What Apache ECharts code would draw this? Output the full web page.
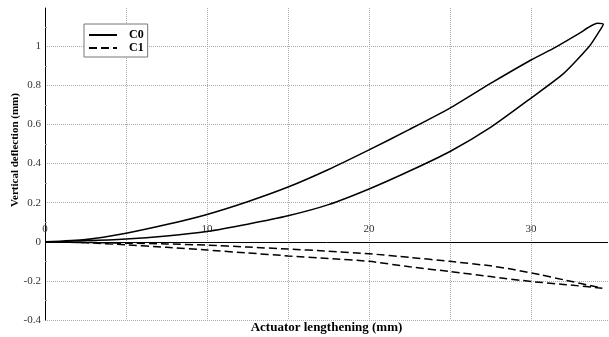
<!DOCTYPE html>
<html>
<head>
<meta charset="utf-8">
<script src="https://cdn.jsdelivr.net/npm/echarts@6/dist/echarts.min.js"></script>
<style>
  html, body { margin: 0; padding: 0; background: #fff; }
  #chart { width: 609px; height: 337px; }
</style>
</head>
<body>
<div id="chart"></div>
<script>
// ---- Data ----
const seriesNames = ['C0', 'C1'];
// C0: loading branch (lower) then unloading branch (upper)
const c0X = [0, 2.5, 5, 7.5, 10, 12.5, 15, 17.5, 20, 22.5, 25, 27.5, 30, 32, 33.6, 34.2, 34.46,
             34.1, 33.5, 33, 31.5, 30, 27.5, 25, 22.5, 20, 17.5, 15, 12.5, 10, 7.5, 5, 2.5, 0];
const c0Y = [0, 0.005, 0.014, 0.03, 0.053, 0.09, 0.133, 0.19, 0.27, 0.362, 0.462, 0.585, 0.735, 0.86, 1.0, 1.075, 1.113,
             1.118, 1.095, 1.067, 0.995, 0.93, 0.81, 0.684, 0.575, 0.47, 0.37, 0.28, 0.205, 0.14, 0.088, 0.044, 0.012, 0];
// C1: outward branch (lower) then return branch (upper)
const c1X = [0, 2.5, 5, 7.5, 10, 12.5, 15, 17.5, 20, 22.5, 25, 27.5, 30, 32, 34.4,
             32, 30.6, 29, 27.5, 25, 22.5, 20, 17.5, 15, 12.5, 10, 7.5, 5, 2.5, 0];
const c1Y = [0, -0.005, -0.015, -0.028, -0.042, -0.057, -0.072, -0.085, -0.1, -0.128, -0.152, -0.178, -0.203, -0.218, -0.237,
             -0.194, -0.169, -0.143, -0.123, -0.1, -0.08, -0.061, -0.048, -0.037, -0.027, -0.017, -0.011, -0.007, -0.003, 0];
const xLabelTicks = [0, 10, 20, 30];
const xTitle = 'Actuator lengthening (mm)';
const yTitle = 'Vertical deflection (mm)';

function pairs(xs, ys) { return xs.map((x, i) => [x, ys[i]]); }

const FONT = "'Liberation Serif', 'Times New Roman', serif";
const chart = echarts.init(document.getElementById('chart'), null, { renderer: 'canvas' });

chart.setOption({
  animation: false,
  backgroundColor: '#fff',
  grid: { left: 45, top: 8, width: 563, height: 312, containLabel: false, outerBoundsMode: 'none' },
  legend: {
    data: seriesNames,
    orient: 'vertical',
    left: 84, top: 24,
    padding: [5, 4, 3, 4],
    itemGap: 1,
    itemWidth: 28, itemHeight: 12,
    backgroundColor: '#fff',
    borderColor: '#777', borderWidth: 1, borderRadius: 0,
    lineStyle: { width: 2 },
    itemStyle: { opacity: 0, color: 'rgba(0,0,0,0)', borderWidth: 0 },
    textStyle: { fontFamily: FONT, fontWeight: 'bold', fontSize: 12, color: '#000', padding: [0, 0, 0, 7] }
  },
  xAxis: {
    type: 'value', min: 0, max: 34.75, interval: 5, position: 'bottom',
    name: xTitle, nameLocation: 'middle', nameGap: 1, nameMoveOverlap: false,
    nameTextStyle: { fontFamily: FONT, fontWeight: 'bold', fontSize: 13, color: '#000', verticalAlign: 'top' },
    axisLine: { show: false, onZero: false },
    axisTick: { show: false },
    axisLabel: {
      inside: true, margin: 85, fontFamily: FONT, fontSize: 11, color: '#333',
      showMaxLabel: false,
      formatter: v => (xLabelTicks.indexOf(v) >= 0 ? String(v) : '')
    },
    splitLine: { show: true, showMaxLine: false, lineStyle: { type: 'dotted', color: '#aaa', width: 1 } }
  },
  yAxis: {
    type: 'value', min: -0.4, max: 1.196, interval: 0.2,
    name: yTitle, nameLocation: 'middle', nameGap: 24, nameMoveOverlap: false,
    nameTextStyle: { fontFamily: FONT, fontWeight: 'bold', fontSize: 11, color: '#000', padding: [0, 0, 0, 28] },
    axisLine: { onZero: false, lineStyle: { color: '#000', width: 1 } },
    axisTick: { show: false, inside: true },
    minorTick: { show: true, splitNumber: 2, length: 2, lineStyle: { color: '#999' } },
    axisLabel: {
      margin: 4, fontFamily: FONT, fontSize: 11, color: '#333', showMaxLabel: false,
      formatter: v => String(Math.round(v * 10) / 10)
    },
    splitLine: { show: true, showMaxLine: false, lineStyle: { type: 'dotted', color: '#aaa', width: 1 } }
  },
  series: [
    {
      name: seriesNames[0], type: 'line', data: pairs(c0X, c0Y),
      symbol: 'none', smooth: 0.2, z: 3,
      lineStyle: { color: '#000', width: 1.5, type: 'solid' },
      itemStyle: { color: '#000' },
      markLine: {
        silent: true, symbol: 'none', animation: false,
        label: { show: false },
        lineStyle: { color: '#000', type: 'solid', width: 1 },
        data: [{ yAxis: 0 }]
      }
    },
    {
      name: seriesNames[1], type: 'line', data: pairs(c1X, c1Y),
      symbol: 'none', smooth: 0.2, z: 3,
      lineStyle: { color: '#000', width: 1.5, type: [8, 4] },
      itemStyle: { color: '#000' }
    }
  ]
});
</script>
</body>
</html>
